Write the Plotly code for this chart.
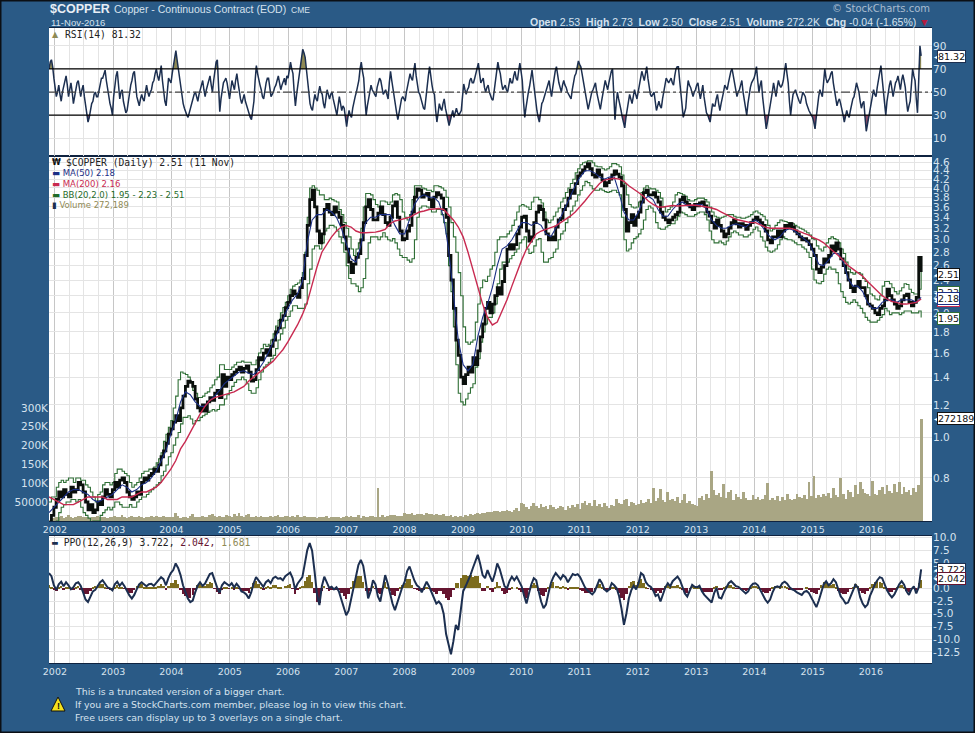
import math
import pandas as pd
import plotly.graph_objects as go

START = "2001-11-25"
END = "2016-11-11"
AXIS_END = "2017-01-18"
YEARS = list(range(2002, 2017))
PRICE_TICKS = [4.6, 4.4, 4.2, 4.0, 3.8, 3.6, 3.4, 3.2, 3.0, 2.8, 2.6, 2.4, 2.2, 2.0, 1.8, 1.6, 1.4, 1.2, 1.0, 0.8]
VOLUME_TICKS = [50, 100, 150, 200, 250, 300]
VOLUME_LABELS = ["50000", "100K", "150K", "200K", "250K", "300K"]
RSI_TICKS = [10, 30, 50, 70, 90]
PPO_TICKS = [10, 7.5, 5, 2.5, 0, -2.5, -5, -7.5, -10, -12.5]

price = [
    .62, .65,
    .68, .71, .74, .72, .75, .73, .72, .76, .74, .75, .78, .77, .74, .70, .67, .69, .66, .67, .70, .69, .72, .75, .73, .72,
    .75, .78, .76, .79, .80, .78, .74, .72, .71, .72, .74, .73, .78, .80, .79, .81, .82, .84, .83, .86, .90, .93, .97, 1.02,
    1.05, 1.09, 1.13, 1.10, 1.18, 1.26, 1.33, 1.37, 1.36, 1.33, 1.24, 1.18, 1.16, 1.20, 1.16, 1.22, 1.25, 1.23, 1.28, 1.30, 1.25, 1.42, 1.33, 1.40,
    1.38, 1.42, 1.44, 1.46, 1.48, 1.44, 1.47, 1.49, 1.44, 1.37, 1.38, 1.46, 1.56, 1.54, 1.60, 1.63, 1.58, 1.66, 1.72, 1.80, 1.84, 1.92, 1.97, 2.06,
    2.12, 2.20, 2.26, 2.22, 2.18, 2.30, 2.42, 2.75, 3.25, 3.75, 3.95, 3.60, 3.15, 2.95, 3.10, 3.55, 3.65, 3.50, 3.45, 3.60, 3.50, 3.40, 3.25, 3.05,
    2.85, 2.65, 2.50, 2.62, 2.72, 2.78, 3.00, 3.30, 3.60, 3.75, 3.55, 3.35, 3.35, 3.48, 3.60, 3.45, 3.30, 3.25, 3.40, 3.62, 3.70, 3.40, 3.15, 3.00,
    3.02, 3.15, 3.25, 3.50, 3.80, 3.98, 3.95, 3.80, 3.85, 3.88, 3.75, 3.60, 3.80, 3.90, 3.85, 3.78, 3.55, 3.40, 2.75, 2.40, 2.05, 1.72, 1.58, 1.40,
    1.35, 1.42, 1.48, 1.44, 1.56, 1.50, 1.62, 1.75, 1.88, 2.05, 2.12, 2.00, 2.10, 2.20, 2.30, 2.22, 2.38, 2.60, 2.85, 2.92, 2.85, 2.92, 3.10, 3.22,
    3.40, 3.42, 3.15, 2.98, 3.05, 3.30, 3.50, 3.62, 3.55, 3.35, 3.10, 3.00, 3.05, 3.00, 3.22, 3.35, 3.38, 3.55, 3.62, 3.78, 3.95, 3.88, 4.10, 4.28,
    4.35, 4.42, 4.50, 4.58, 4.45, 4.30, 4.25, 4.42, 4.30, 4.18, 4.05, 4.12, 4.20, 4.30, 4.40, 4.32, 4.25, 4.05, 3.55, 3.15, 3.30, 3.45, 3.25, 3.40,
    3.50, 3.70, 3.90, 3.95, 3.85, 3.85, 3.90, 3.80, 3.70, 3.50, 3.40, 3.35, 3.30, 3.35, 3.40, 3.45, 3.50, 3.75, 3.80, 3.70, 3.65, 3.60, 3.55, 3.65,
    3.62, 3.68, 3.70, 3.62, 3.50, 3.42, 3.30, 3.20, 3.35, 3.25, 3.15, 3.05, 3.10, 3.20, 3.30, 3.35, 3.28, 3.22, 3.28, 3.25, 3.18, 3.25, 3.30, 3.35,
    3.40, 3.35, 3.30, 3.25, 3.15, 3.00, 2.95, 3.05, 3.05, 3.15, 3.05, 3.15, 3.25, 3.20, 3.28, 3.22, 3.15, 3.10, 3.05, 3.00, 3.02, 2.98, 2.92, 2.85,
    2.75, 2.55, 2.50, 2.58, 2.70, 2.65, 2.75, 2.90, 2.82, 2.95, 2.85, 2.70, 2.60, 2.50, 2.40, 2.30, 2.25, 2.32, 2.38, 2.30, 2.30, 2.20, 2.10, 2.08,
    2.05, 2.00, 1.98, 2.05, 2.08, 2.15, 2.28, 2.20, 2.15, 2.10, 2.05, 2.08, 2.15, 2.20, 2.22, 2.12, 2.08, 2.12, 2.18, 2.72, 2.51,
]

bb_upper = [
    .70, .72,
    .72, .76, .78, .79, .78, .79, .80, .80, .78, .80, .80, .79, .79, .77, .76, .74, .72, .70, .73, .74, .77, .78, .78, .77,
    .78, .82, .84, .84, .83, .82, .81, .78, .76, .77, .78, .80, .82, .83, .83, .84, .84, .85, .87, .89, .92, .98, 1.02, 1.06,
    1.10, 1.18, 1.26, 1.38, 1.44, 1.43, 1.42, 1.40, 1.36, 1.30, 1.28, 1.25, 1.25, 1.26, 1.28, 1.29, 1.32, 1.34, 1.38, 1.40, 1.50, 1.50, 1.46, 1.46,
    1.46, 1.48, 1.50, 1.52, 1.52, 1.53, 1.52, 1.52, 1.52, 1.50, 1.50, 1.54, 1.60, 1.64, 1.68, 1.66, 1.68, 1.72, 1.78, 1.86, 1.92, 2.00, 2.06, 2.12,
    2.20, 2.28, 2.32, 2.34, 2.36, 2.40, 2.50, 2.80, 3.40, 4.00, 4.05, 4.00, 3.95, 3.85, 3.85, 3.75, 3.75, 3.78, 3.75, 3.72, 3.70, 3.55, 3.45, 3.30,
    3.20, 3.05, 2.85, 2.75, 2.85, 2.95, 3.20, 3.60, 3.88, 3.88, 3.85, 3.75, 3.65, 3.60, 3.72, 3.72, 3.70, 3.65, 3.70, 3.85, 3.88, 3.85, 3.75, 3.50,
    3.40, 3.35, 3.45, 3.75, 4.05, 4.05, 4.05, 4.00, 3.98, 3.95, 3.95, 3.92, 4.05, 4.05, 4.03, 4.00, 3.95, 3.80, 3.60, 3.30, 3.05, 2.80, 2.50, 2.20,
    1.85, 1.70, 1.68, 1.70, 1.72, 1.90, 2.10, 2.30, 2.40, 2.38, 2.45, 2.55, 2.60, 2.80, 3.00, 3.05, 3.05, 3.05, 3.10, 3.15, 3.25, 3.35, 3.50, 3.62,
    3.65, 3.62, 3.60, 3.55, 3.70, 3.80, 3.80, 3.75, 3.68, 3.50, 3.35, 3.30, 3.35, 3.42, 3.50, 3.58, 3.70, 3.78, 3.90, 4.00, 4.10, 4.20, 4.35, 4.45,
    4.55, 4.60, 4.62, 4.65, 4.65, 4.60, 4.52, 4.50, 4.50, 4.45, 4.42, 4.45, 4.50, 4.58, 4.58, 4.55, 4.50, 4.30, 4.10, 3.85, 3.65, 3.60, 3.58, 3.60,
    3.70, 3.90, 4.00, 4.05, 4.00, 3.98, 3.98, 3.95, 3.90, 3.78, 3.60, 3.50, 3.55, 3.60, 3.70, 3.85, 3.90, 3.88, 3.85, 3.82, 3.75, 3.72, 3.72, 3.75,
    3.78, 3.78, 3.78, 3.75, 3.70, 3.60, 3.50, 3.42, 3.40, 3.38, 3.40, 3.42, 3.45, 3.45, 3.45, 3.42, 3.40, 3.40, 3.38, 3.38, 3.40, 3.42, 3.45, 3.50,
    3.52, 3.48, 3.45, 3.42, 3.35, 3.25, 3.15, 3.18, 3.25, 3.30, 3.35, 3.33, 3.32, 3.30, 3.30, 3.28, 3.25, 3.22, 3.20, 3.18, 3.15, 3.12, 3.08, 3.02,
    3.00, 2.90, 2.85, 2.82, 2.88, 2.95, 3.02, 3.05, 3.02, 3.00, 2.95, 2.85, 2.78, 2.65, 2.55, 2.50, 2.48, 2.50, 2.50, 2.48, 2.42, 2.38, 2.30, 2.22,
    2.20, 2.16, 2.15, 2.20, 2.32, 2.38, 2.38, 2.35, 2.30, 2.25, 2.22, 2.26, 2.30, 2.35, 2.34, 2.28, 2.24, 2.22, 2.22, 2.28, 2.51,
]

bb_lower = [
    .60, .61,
    .62, .63, .66, .68, .69, .70, .70, .71, .71, .70, .71, .68, .66, .65, .64, .62, .63, .63, .63, .65, .66, .67, .68, .67,
    .68, .70, .70, .69, .68, .68, .68, .69, .68, .68, .70, .71, .72, .72, .73, .74, .75, .76, .77, .78, .81, .83, .86, .90,
    .92, .96, 1.00, 1.03, 1.08, 1.12, 1.12, 1.13, 1.11, 1.08, 1.10, 1.10, 1.12, 1.13, 1.14, 1.15, 1.16, 1.17, 1.16, 1.17, 1.20, 1.20, 1.24, 1.27,
    1.30, 1.33, 1.36, 1.38, 1.38, 1.40, 1.38, 1.35, 1.30, 1.28, 1.28, 1.32, 1.38, 1.44, 1.48, 1.50, 1.52, 1.55, 1.58, 1.64, 1.72, 1.78, 1.84, 1.92,
    1.96, 2.02, 2.08, 2.08, 2.05, 2.05, 2.05, 2.10, 2.35, 2.55, 2.85, 2.90, 2.90, 2.85, 2.95, 3.15, 3.20, 3.25, 3.25, 3.22, 3.15, 3.05, 2.95, 2.80,
    2.60, 2.42, 2.35, 2.35, 2.32, 2.25, 2.30, 2.42, 2.70, 2.95, 3.05, 3.05, 3.05, 3.00, 3.05, 3.12, 3.05, 3.00, 2.98, 3.02, 2.95, 2.85, 2.75, 2.72,
    2.72, 2.68, 2.65, 2.70, 3.00, 3.40, 3.58, 3.62, 3.62, 3.60, 3.55, 3.50, 3.50, 3.55, 3.55, 3.45, 3.30, 3.10, 2.60, 2.25, 1.85, 1.50, 1.28, 1.22,
    1.20, 1.24, 1.28, 1.32, 1.35, 1.48, 1.55, 1.70, 1.80, 1.88, 1.95, 1.95, 2.00, 2.10, 2.35, 2.55, 2.65, 2.65, 2.65, 2.70, 2.75, 2.80, 2.85, 2.95,
    3.00, 3.05, 2.85, 2.78, 2.80, 2.90, 3.00, 3.02, 2.80, 2.65, 2.65, 2.70, 2.72, 2.80, 2.85, 3.00, 3.10, 3.15, 3.30, 3.40, 3.52, 3.62, 3.72, 3.85,
    3.95, 4.05, 4.15, 4.12, 4.05, 3.98, 3.95, 3.95, 3.98, 3.95, 3.92, 3.90, 3.92, 3.95, 3.95, 3.90, 3.85, 3.40, 3.00, 2.82, 2.85, 2.95, 3.02, 3.05,
    3.10, 3.18, 3.35, 3.55, 3.62, 3.58, 3.50, 3.30, 3.20, 3.18, 3.18, 3.22, 3.25, 3.28, 3.28, 3.35, 3.42, 3.50, 3.48, 3.45, 3.42, 3.42, 3.42, 3.45,
    3.48, 3.50, 3.50, 3.45, 3.35, 3.15, 3.00, 2.95, 2.95, 2.98, 2.95, 2.92, 2.98, 3.05, 3.12, 3.15, 3.12, 3.08, 3.08, 3.05, 3.05, 3.08, 3.12, 3.18,
    3.22, 3.15, 3.05, 2.98, 2.88, 2.82, 2.80, 2.82, 2.85, 2.92, 3.00, 3.05, 3.02, 3.00, 3.00, 2.98, 2.95, 2.92, 2.92, 2.88, 2.85, 2.80, 2.72, 2.55,
    2.40, 2.36, 2.35, 2.38, 2.48, 2.55, 2.58, 2.55, 2.55, 2.50, 2.35, 2.25, 2.18, 2.12, 2.10, 2.12, 2.15, 2.12, 2.08, 2.05, 2.00, 1.95, 1.92, 1.90,
    1.90, 1.90, 1.92, 1.95, 1.98, 2.05, 2.02, 1.98, 2.00, 2.00, 2.00, 1.98, 2.00, 2.02, 2.02, 2.02, 2.00, 2.00, 2.00, 2.02, 1.95,
]

ma50 = [
    .66,
    .68, .70, .72, .74, .75, .75, .74, .73, .71, .70, .71, .72,
    .73, .75, .77, .76, .74, .75, .77, .78, .80, .83, .88, .93,
    1.02, 1.10, 1.22, 1.29, 1.27, 1.22, 1.19, 1.19, 1.23, 1.26, 1.30, 1.35,
    1.38, 1.41, 1.44, 1.45, 1.43, 1.42, 1.46, 1.52, 1.60, 1.70, 1.80, 1.93,
    2.05, 2.15, 2.22, 2.38, 2.95, 3.35, 3.45, 3.45, 3.55, 3.50, 3.40, 3.20,
    2.95, 2.70, 2.65, 2.90, 3.30, 3.40, 3.40, 3.45, 3.45, 3.45, 3.25, 3.10,
    3.10, 3.35, 3.65, 3.80, 3.85, 3.80, 3.80, 3.70, 3.40, 2.85, 2.20, 1.72,
    1.50, 1.45, 1.50, 1.75, 1.95, 2.10, 2.30, 2.60, 2.85, 2.90, 3.00, 3.15,
    3.30, 3.30, 3.25, 3.30, 3.25, 3.10, 3.05, 3.20, 3.40, 3.60, 3.85, 4.05,
    4.25, 4.40, 4.40, 4.35, 4.25, 4.20, 4.25, 4.25, 3.90, 3.50, 3.35, 3.35,
    3.50, 3.75, 3.82, 3.75, 3.55, 3.42, 3.42, 3.55, 3.65, 3.70, 3.62, 3.62,
    3.65, 3.65, 3.55, 3.35, 3.25, 3.20, 3.20, 3.25, 3.28, 3.25, 3.22, 3.30,
    3.35, 3.28, 3.15, 3.05, 3.00, 3.05, 3.15, 3.20, 3.15, 3.08, 3.02, 2.95,
    2.78, 2.62, 2.60, 2.68, 2.78, 2.78, 2.65, 2.42, 2.32, 2.32, 2.25, 2.12,
    2.05, 2.05, 2.12, 2.15, 2.15, 2.12, 2.15, 2.15, 2.15, 2.12, 2.18,
]

ma200 = [
    .72,
    .71, .70, .69, .69, .69, .70, .71, .72, .72, .72, .72, .71,
    .71, .71, .72, .72, .72, .73, .74, .74, .75, .76, .78, .81,
    .84, .88, .94, .98, 1.03, 1.09, 1.14, 1.19, 1.23, 1.25, 1.26, 1.27,
    1.28, 1.29, 1.31, 1.33, 1.37, 1.40, 1.43, 1.46, 1.49, 1.53, 1.58, 1.63,
    1.70, 1.78, 1.87, 1.98, 2.12, 2.34, 2.58, 2.80, 2.92, 3.05, 3.15, 3.22,
    3.25, 3.22, 3.15, 3.12, 3.12, 3.12, 3.13, 3.15, 3.18, 3.28, 3.33, 3.35,
    3.38, 3.40, 3.45, 3.50, 3.52, 3.55, 3.56, 3.57, 3.55, 3.45, 3.35, 3.22,
    3.05, 2.80, 2.55, 2.30, 2.10, 1.95, 1.87, 1.90, 2.02, 2.15, 2.32, 2.50,
    2.68, 2.85, 2.98, 3.10, 3.15, 3.18, 3.20, 3.24, 3.30, 3.36, 3.42, 3.50,
    3.60, 3.72, 3.85, 3.98, 4.10, 4.18, 4.20, 4.22, 4.20, 4.15, 4.05, 3.98,
    3.90, 3.82, 3.72, 3.65, 3.60, 3.60, 3.62, 3.63, 3.62, 3.63, 3.64, 3.64,
    3.63, 3.62, 3.60, 3.58, 3.55, 3.50, 3.45, 3.40, 3.36, 3.34, 3.32, 3.30,
    3.30, 3.26, 3.22, 3.20, 3.20, 3.20, 3.20, 3.20, 3.18, 3.14, 3.11, 3.08,
    3.03, 3.00, 2.95, 2.88, 2.82, 2.75, 2.68, 2.60, 2.55, 2.50, 2.45, 2.38,
    2.32, 2.25, 2.20, 2.16, 2.13, 2.12, 2.10, 2.10, 2.11, 2.12, 2.16,
]

volume_k = [
    4, 8,
    10, 12, 11, 14, 10, 13, 16, 12, 10, 13, 15, 14, 11, 13, 12, 10, 13, 11, 14, 12, 11, 13, 10, 12,
    11, 14, 13, 12, 16, 11, 10, 13, 15, 11, 12, 14, 12, 10, 13, 11, 14, 12, 15, 13, 11, 14, 12, 11,
    13, 11, 22, 14, 10, 12, 13, 9, 14, 20, 13, 11, 12, 14, 11, 13, 17, 21, 14, 12, 15, 11, 13, 16,
    14, 12, 19, 15, 23, 14, 12, 17, 21, 13, 12, 15, 12, 14, 13, 12, 11, 14, 13, 15, 18, 13, 12, 14,
    14, 13, 15, 12, 17, 13, 11, 14, 12, 13, 11, 12, 10, 13, 12, 11, 14, 10, 12, 13, 11, 12, 10, 13,
    15, 11, 14, 12, 13, 16, 10, 14, 12, 11, 15, 14, 13, 88, 12, 16, 12, 14, 17, 18, 16, 15, 14, 15,
    22, 21, 19, 22, 17, 19, 21, 20, 18, 22, 20, 19, 18, 21, 17, 16, 19, 15, 14, 16, 13, 15, 12, 14,
    13, 17, 15, 19, 17, 20, 22, 20, 23, 22, 25, 24, 26, 29, 27, 25, 28, 27, 30, 28, 26, 30, 37, 28,
    50, 46, 38, 34, 42, 48, 40, 36, 46, 38, 40, 32, 44, 38, 34, 36, 42, 38, 30, 40, 36, 44, 38, 46,
    34, 48, 54, 44, 50, 40, 56, 42, 46, 38, 48, 42, 36, 44, 40, 60, 50, 46, 56, 60, 42, 52, 48, 44,
    46, 56, 48, 52, 60, 50, 90, 54, 62, 86, 58, 52, 78, 56, 60, 54, 66, 50, 58, 72, 48, 54, 46, 44,
    40, 62, 68, 58, 72, 62, 135, 84, 70, 76, 66, 100, 62, 78, 84, 58, 72, 66, 60, 78, 62, 58, 56, 70,
    60, 66, 58, 60, 70, 103, 58, 62, 58, 68, 54, 66, 58, 72, 60, 56, 60, 74, 66, 62, 70, 60, 104, 68,
    122, 62, 70, 64, 72, 68, 76, 62, 88, 70, 66, 116, 72, 60, 84, 78, 66, 96, 72, 104, 86, 76, 74, 68,
    108, 74, 70, 84, 92, 72, 96, 80, 76, 100, 78, 106, 72, 92, 78, 84, 70, 88, 78, 96, 272,
]

rsi = [
    70, 76, 78, 72,
    62, 54, 46, 50, 56, 48, 42, 50, 54, 60, 64, 56, 46, 52, 58, 50, 40, 46, 52, 58, 60, 52, 46, 52,
    56, 46, 38, 32, 24, 28, 34, 40, 42, 48, 50, 46, 46, 52, 58, 62, 62, 66, 69, 60, 52, 44, 40, 36,
    30, 46, 58, 64, 68, 56, 44, 50, 52, 42, 36, 32, 34, 42, 50, 56, 60, 66, 68, 56, 46, 42, 38, 44,
    48, 44, 42, 50, 56, 50, 46, 50, 52, 58, 60, 66, 70, 64, 60, 66, 73, 60, 48, 42, 38, 50, 62, 60,
    58, 66, 72, 80, 86, 78, 70, 62, 55, 48, 40, 36, 32, 30, 28, 32, 36, 42, 44, 48, 50, 46, 42, 48,
    52, 58, 60, 52, 46, 52, 56, 62, 64, 56, 50, 60, 70, 76, 78, 50, 33, 44, 52, 58, 60, 62, 58, 50,
    44, 52, 60, 56, 52, 60, 66, 58, 50, 44, 40, 44, 48, 42, 38, 34, 32, 28, 26, 34, 42, 60, 73, 66,
    60, 56, 52, 46, 44, 52, 58, 62, 62, 54, 46, 48, 50, 54, 56, 60, 64, 58, 52, 56, 60, 62, 56, 64,
    62, 70, 76, 70, 66, 50, 38, 48, 56, 66, 72, 80, 87, 84, 80, 70, 60, 50, 40, 36, 34, 42, 48, 44,
    42, 50, 55, 50, 48, 40, 36, 44, 52, 48, 44, 48, 50, 44, 40, 34, 30, 38, 46, 40, 34, 38, 36, 28,
    20, 28, 34, 30, 28, 36, 42, 46, 50, 56, 60, 70, 76, 68, 62, 44, 30, 38, 44, 52, 56, 52, 50, 48,
    46, 54, 58, 62, 60, 52, 48, 50, 52, 48, 44, 58, 68, 60, 52, 44, 40, 32, 26, 34, 38, 44, 46, 44,
    42, 50, 56, 62, 66, 62, 60, 68, 75, 64, 56, 50, 48, 44, 40, 36, 35, 46, 52, 64, 72, 62, 56, 50,
    48, 34, 24, 32, 40, 36, 34, 40, 44, 36, 32, 26, 21, 26, 30, 34, 28, 32, 36, 32, 30, 32, 34, 46,
    57, 52, 48, 52, 54, 60, 62, 58, 58, 62, 66, 72, 75, 66, 58, 60, 62, 54, 50, 54, 56, 50, 46, 44,
    43, 52, 60, 70, 76, 70, 66, 58, 52, 54, 56, 52, 50, 56, 62, 58, 58, 64, 68, 62, 60, 68, 75, 68,
    60, 42, 28, 36, 46, 50, 55, 62, 69, 60, 50, 42, 34, 28, 24, 32, 40, 42, 46, 50, 52, 56, 60, 52,
    46, 54, 62, 68, 72, 64, 58, 54, 50, 56, 60, 56, 54, 50, 48, 46, 44, 52, 60, 64, 66, 72, 77, 74,
    72, 66, 60, 54, 48, 42, 35, 40, 46, 50, 52, 56, 58, 50, 44, 40, 35, 42, 48, 54, 60, 56, 52, 58,
    64, 68, 70, 46, 26, 40, 50, 44, 40, 34, 28, 24, 19, 28, 36, 42, 48, 44, 40, 46, 52, 48, 44, 50,
    56, 62, 68, 64, 60, 66, 72, 62, 52, 48, 46, 48, 50, 42, 34, 38, 42, 38, 36, 44, 50, 56, 62, 60,
    58, 60, 62, 58, 56, 64, 70, 72, 72, 60, 50, 38, 28, 32, 36, 50, 60, 56, 54, 50, 46, 50, 52, 56,
    58, 50, 44, 50, 56, 46, 36, 32, 30, 26, 24, 32, 40, 38, 38, 44, 48, 40, 34, 40, 44, 50, 56, 54,
    52, 58, 64, 68, 70, 64, 58, 52, 46, 50, 52, 56, 60, 50, 44, 36, 30, 40, 50, 54, 58, 60, 62, 66,
    72, 60, 50, 56, 60, 46, 36, 26, 18, 24, 30, 36, 42, 50, 58, 52, 46, 54, 60, 56, 54, 56, 60, 68,
    75, 66, 58, 42, 30, 40, 48, 50, 52, 48, 44, 42, 40, 46, 50, 48, 46, 40, 36, 34, 32, 30, 28, 24,
    18, 28, 40, 46, 52, 48, 46, 58, 70, 62, 58, 60, 62, 66, 68, 58, 50, 44, 38, 42, 44, 40, 36, 30,
    24, 30, 34, 30, 28, 34, 40, 44, 46, 52, 58, 54, 50, 42, 36, 40, 42, 28, 16, 22, 28, 34, 40, 46,
    52, 48, 46, 54, 60, 66, 73, 62, 50, 40, 30, 42, 52, 56, 60, 52, 46, 52, 58, 60, 64, 58, 52, 60,
    65, 60, 54, 42, 33, 38, 42, 56, 70, 64, 60, 44, 32, 60, 90, 81.32,
]

ppo = [
    3.0, 2.4,
    .6, -.3, .8, 1.3, .4, 1.2, .6, -.2, .2, 1.0, 1.2, .5, -.8, -2.2, -2.7, -1.8, -.6, -.3, .5, 1.2, 1.6, .9, .2, .0,
    -.4, .8, 1.3, .5, 1.1, .4, -.6, -1.4, -2.0, -1.3, -.2, .8, 1.2, .7, .4, .8, .9, .5, 1.0, 1.5, 2.2, 1.8, .6, 2.0,
    3.0, 3.6, 4.9, 4.0, 2.6, .6, -.8, -2.0, -2.7, -2.4, -.8, .5, 1.2, .5, .9, 1.8, 2.8, 3.0, 1.5, .2, -.9, .6, 1.2, .8,
    .5, 1.0, .2, .9, .3, -.6, -.8, -1.2, -2.0, -.8, 1.0, 2.2, 1.6, .9, .3, 1.2, 1.6, 1.0, 2.0, 2.3, 1.9, 2.0, 1.6, 2.4,
    2.8, 3.1, 2.0, -.2, .9, 1.6, 2.2, 4.8, 7.5, 8.9, 7.4, 3.4, -1.2, -3.3, .4, 2.3, 1.2, .1, .3, -.2, .2, -.6, -2.2, -3.6,
    -5.3, -4.4, -2.2, .4, 2.6, 4.6, 5.6, 4.4, 1.4, -2.0, -.6, 1.6, .8, -1.6, -2.6, .2, 2.6, 1.0, -1.0, -3.0, -4.3, -2.8, -1.2, .2,
    1.3, 3.4, 4.3, 2.8, 1.5, .6, .2, -.8, .3, 1.3, .4, -.8, -1.8, -3.0, -2.6, -3.2, -5.0, -9.0, -11.0, -13.0, -10.4, -7.2, -8.2, -4.5,
    -.6, .4, 1.4, 2.6, 4.0, 5.4, 6.6, 4.8, 2.6, 2.0, 3.6, 2.4, 1.3, 2.8, 4.9, 3.8, 2.0, .4, .0, 1.4, 2.3, 1.6, 2.3, 1.4,
    .4, -1.4, -3.0, -1.0, .8, 2.0, 1.6, -.6, -2.6, -3.9, -3.2, -1.0, 1.0, 2.2, 3.0, 2.4, 1.8, 2.6, 2.2, 1.2, 2.0, 2.8, 2.6, 2.8,
    2.2, 1.2, .2, -.4, -.9, -1.2, -.6, .8, 1.8, 1.0, -.2, -.6, -.2, 1.0, .6, .0, -1.5, -4.0, -7.2, -5.0, -2.0, -.4, .5, -.2,
    1.0, 3.0, 2.6, 1.2, .6, .3, -.4, -1.5, -1.2, -2.6, -1.4, .2, 1.0, .4, 1.4, 1.8, 2.3, 1.6, .4, -1.0, -1.6, -.6, .7, .3,
    .2, .5, -.6, -1.3, -1.8, -2.4, -2.8, -1.0, .1, -1.8, -2.0, -.8, .2, 1.0, 1.4, .8, .4, .3, -.2, -.6, -1.0, -.6, .4, .9,
    1.0, .6, -.4, -1.4, -2.2, -2.8, -2.2, -.8, .2, .4, .2, 1.0, 1.3, .9, .2, -.2, -.4, -.8, -1.0, -1.3, -.7, -.5, -1.0, -2.0,
    -2.9, -3.7, -2.4, -.6, .8, 1.4, .6, 1.0, 1.8, 1.2, -.2, -1.6, -2.2, -3.0, -2.8, -1.6, -.6, .7, .2, -1.8, -3.0, -3.7, -3.2, -1.5,
    -.4, .8, 1.6, 2.2, 2.0, .8, -.4, -1.2, -1.8, -1.2, -.2, .8, 1.4, .7, -.6, -1.3, -.2, .4, -1.0, .2, 3.722,
]

ppo_hist = [
    .6, .3,
    -.4, -.6, .2, .4, -.2, .3, .1, -.4, -.2, .3, .4, -.2, -.8, -1.2, -1.2, -.5, .2, .4, .6, .9, .8, .3, -.1, -.2,
    -.4, .3, .6, .1, .3, -.1, -.5, -.9, -1.0, -.4, .4, .8, .8, .3, .1, .2, .2, .1, .3, .5, .8, .5, -.3, .5,
    1.0, 1.0, 1.6, .8, -.2, -1.1, -1.6, -2.0, -1.9, -1.3, -.2, .7, 1.0, .4, .5, .8, 1.2, 1.0, -.1, -.8, -1.2, -.2, .3, .1,
    -.1, .2, -.2, .2, -.1, -.6, -.6, -.6, -.9, .1, 1.0, 1.5, .8, .2, -.2, .3, .5, .1, .6, .6, .3, .3, .0, .5,
    .6, .8, -.1, -1.2, -.3, .2, .4, 1.5, 2.3, 2.6, 1.3, -1.0, -2.6, -2.8, -.6, .4, -.1, -.5, -.4, -.4, -.2, -.4, -1.0, -1.5,
    -2.1, -1.2, .2, 1.4, 2.2, 2.4, 2.4, 1.2, -.6, -1.8, -.6, .4, -.1, -1.0, -1.2, .2, 1.2, .3, -.5, -1.4, -1.6, -.6, .2, .6,
    1.0, 1.8, 1.8, .6, -.1, -.4, -.5, -.8, -.2, .3, -.1, -.6, -.8, -1.2, -.6, -.6, -1.2, -2.0, -2.2, -1.8, -.4, 1.0, 1.0, 2.0,
    2.7, 2.6, 2.4, 2.6, 2.2, 2.4, 2.4, 1.0, -.5, -.6, .4, -.2, -.8, .2, 1.2, .4, -.6, -1.2, -1.0, -.2, .3, .0, .2, -.2,
    -.8, -1.6, -2.0, -.4, .6, 1.0, .6, -.6, -1.4, -1.6, -.8, .2, .8, 1.2, .4, .4, .1, .4, .2, -.3, .1, .3, .2, .2,
    -.2, -.6, -.9, -1.0, -.9, -.8, -.2, .5, .8, .2, -.4, -.6, -.4, .2, .1, -.3, -1.0, -2.0, -2.2, -1.2, .4, 1.2, 1.4, .6,
    1.2, 1.8, 1.0, .2, -.1, -.2, -.5, -.9, -.5, -.9, -.2, .5, .6, .2, .4, .5, .7, .2, -.4, -.9, -.9, -.1, .6, .3,
    .1, .2, -.5, -.7, -.8, -.8, -.7, .1, .5, -.3, -.3, .2, .5, .6, .6, .2, -.1, -.1, -.3, -.4, -.5, -.2, .3, .5,
    .4, .1, -.4, -.7, -.9, -1.0, -.5, .1, .5, .4, .2, .5, .5, .2, -.2, -.3, -.3, -.4, -.3, -.4, .0, .1, -.2, -.7,
    -1.0, -1.2, -.3, .6, 1.2, 1.3, .6, .6, .8, .3, -.5, -1.0, -1.1, -1.2, -.8, -.1, .3, .8, .4, -.6, -1.0, -1.1, -.6, .2,
    .8, 1.2, 1.4, 1.3, 1.0, .2, -.4, -.7, -.8, -.4, .1, .5, .7, .2, -.5, -.7, -.1, .1, -.3, 1.1, 1.681,
]

W, H = 975, 733
BG = "#2a5a86"
INK = "#d6e2ee"
PANEL_EDGE = "#0f2340"
GRID = "#e4e4e4"
GRID_YEAR = "#c6c6c6"
NAVY = "#1c2f50"
OLIVE = "#a9a684"
SANS = "Liberation Sans"
MONO = "DejaVu Sans Mono"
DEJA = "DejaVu Sans"
L, R = 49, 932


def fx(p):
    return p / W


def fy(p):
    return 1 - p / H


def dates(values):
    return pd.date_range(START, END, periods=len(values))


BAR_MS = 17 * 24 * 3600 * 1000
HIST_MS = 15 * 24 * 3600 * 1000
years = [f"{y}-01-01" for y in YEARS]
quarters = [f"{y}-{m:02d}-01" for y in YEARS for m in (4, 7, 10)]

fig = go.Figure()

# volume (behind the price)
fig.add_trace(go.Bar(x=dates(volume_k), y=volume_k, width=BAR_MS, marker=dict(color=OLIVE, line_width=0),
                     xaxis="x", yaxis="y"))


def price_line(values, color, width, shape="linear"):
    fig.add_trace(go.Scatter(x=dates(values), y=values, mode="lines", line=dict(color=color, width=width, shape=shape),
                             xaxis="x", yaxis="y2"))


price_line(bb_upper, "#2f6f36", 1.1, "hv")
price_line(bb_lower, "#2f6f36", 1.1, "hv")
price_line(price, "#0a0f0c", 2.8, "hv")
price_line(ma50, "#1b2f86", 1.1)
price_line(ma200, "#c82a50", 1.4)

# RSI
rsi_x = dates(rsi)
fig.add_trace(go.Scatter(x=rsi_x, y=[70] * len(rsi), mode="lines", line=dict(width=0), xaxis="x2", yaxis="y3"))
fig.add_trace(go.Scatter(x=rsi_x, y=[max(v, 70) for v in rsi], mode="lines", line=dict(width=0), fill="tonexty",
                         fillcolor="#8f8a55", xaxis="x2", yaxis="y3"))
fig.add_trace(go.Scatter(x=rsi_x, y=[30] * len(rsi), mode="lines", line=dict(width=0), xaxis="x2", yaxis="y3"))
fig.add_trace(go.Scatter(x=rsi_x, y=[min(v, 30) for v in rsi], mode="lines", line=dict(width=0), fill="tonexty",
                         fillcolor="#8a4a66", xaxis="x2", yaxis="y3"))
fig.add_trace(go.Scatter(x=rsi_x, y=rsi, mode="lines", line=dict(color=NAVY, width=1.5), xaxis="x2", yaxis="y3"))

# PPO
fig.add_trace(go.Bar(x=dates(ppo_hist), y=ppo_hist, width=HIST_MS,
                     marker=dict(color=["#7c6c1e" if v >= 0 else "#651530" for v in ppo_hist], line_width=0),
                     xaxis="x3", yaxis="y4"))
fig.add_trace(go.Scatter(x=dates(ppo), y=ppo, mode="lines", line=dict(color=NAVY, width=2), xaxis="x3", yaxis="y4"))


def xaxis(dom_anchor, labels):
    return dict(
        domain=[fx(L), fx(R)], anchor=dom_anchor, type="date", range=[START, AXIS_END], tickmode="array",
        tickvals=years, ticktext=[str(y) for y in YEARS], showticklabels=labels, ticks="", showgrid=True,
        gridcolor=GRID_YEAR, gridwidth=1.4, zeroline=False, showline=True, linecolor=PANEL_EDGE, linewidth=1,
        mirror=True, tickfont=dict(family=DEJA, size=9.5, color=INK),
        minor=dict(tickvals=quarters, showgrid=True, gridcolor=GRID, gridwidth=1, ticks=""),
    )


def yaxis(dom, rng, ticks, labels=None, **extra):
    d = dict(
        domain=[fy(dom[1]), fy(dom[0])], range=rng, tickmode="array", tickvals=ticks,
        ticktext=labels if labels else [str(t) for t in ticks], showgrid=True, gridcolor=GRID, gridwidth=1,
        zeroline=False, showline=False, ticks="", tickfont=dict(family=DEJA, size=10.5, color=INK),
    )
    d.update(extra)
    return d


layout_axes = dict(
    xaxis=xaxis("y", True),
    xaxis2=xaxis("y3", False),
    xaxis3=xaxis("y4", True),
    yaxis=yaxis((155.5, 521), [0, 970], VOLUME_TICKS, VOLUME_LABELS, side="left", anchor="x", showgrid=False),
    yaxis2=yaxis((155.5, 521), [math.log10(0.63), math.log10(4.79)], PRICE_TICKS,
                 [f"{t:.1f}" for t in PRICE_TICKS], type="log", side="right", anchor="x", overlaying="y"),
    yaxis3=yaxis((28, 155.5), [-5, 105.5], RSI_TICKS, side="right", anchor="x2"),
    yaxis4=yaxis((536, 663), [-14.7, 10.3], PPO_TICKS, [f"{t:g}" if t % 1 else f"{t:.1f}" for t in PPO_TICKS],
                 side="right", anchor="x3"),
)

annotations = []


def ann(text, x, y, size, color, family=SANS, anchor="left"):
    annotations.append(dict(text=text, x=fx(x), y=fy(y), xref="paper", yref="paper", showarrow=False, xanchor=anchor,
                            yanchor="middle", align=anchor, font=dict(family=family, size=size, color=color)))


def tag(text, y, edge, x=R + 5):
    ann("◂", x - 5, y, 10, "#ffffff", DEJA)
    annotations.append(dict(text=text, x=fx(x), y=fy(y), xref="paper", yref="paper", showarrow=False, xanchor="left",
                            yanchor="middle", bgcolor="#ffffff", bordercolor=edge, borderwidth=1, borderpad=0,
                            font=dict(family=DEJA, size=9.5, color="#111111")))


# header
ann("<b>$COPPER</b>", 48, 9, 12.5, "#e8eef5")
ann("Copper - Continuous Contract (EOD)", 112, 9, 10.5, INK)
ann("CME", 289, 9.5, 8.5, INK)
ann("11-Nov-2016", 49, 22, 9.5, INK)
ann("© StockCharts.com", R, 9, 10, "#a9bccf", DEJA, "right")
ann("<b>Open</b> 2.53  <b>High</b> 2.73  <b>Low</b> 2.50  <b>Close</b> 2.51  <b>Volume</b> 272.2K  <b>Chg</b> -0.04 (-1.65%) "
    "<span style='color:#b01c40'>▼</span>", R, 22, 10.5, INK, SANS, "right")

# panel captions
ann("<span style='color:#8f8a55'>▲</span>", 50, 35, 8, "#8f8a55", DEJA)
ann("RSI(14) 81.32", 63, 35, 9.7, "#222222", MONO)
ann("<b>₩</b>", 50, 163, 8, "#111111", DEJA)
ann("$COPPER (Daily) 2.51 (11 Nov)", 64, 163, 9.7, "#222222", MONO)
ann("<span style='color:#1b2f86'>▬</span> <span style='color:#1b2f86'>MA(50) 2.18</span>", 50, 173, 8.5, "#1b2f86", DEJA)
ann("<span style='color:#c82a50'>▬</span> <span style='color:#c82a50'>MA(200) 2.16</span>", 50, 184, 8.5, "#c82a50", DEJA)
ann("<span style='color:#1f6b2a'>▬</span> <span style='color:#1f6b2a'>BB(20,2.0) 1.95 - 2.23 - 2.51</span>", 50, 195, 8.5, "#1f6b2a", DEJA)
ann("<span style='color:#1c2f50'>▮</span> <span style='color:#8f8a55'>Volume 272,189</span>", 50, 205, 8.5, "#8f8a55", DEJA)
ann("<span style='color:#1c2f50'>▬</span> <span style='color:#222222'>PPO(12,26,9) 3.722,</span> "
    "<span style='color:#651530'>2.042,</span> <span style='color:#8f8a55'>1.681</span>", 50, 542, 9.7, "#222222", MONO)

# value tags
tag("81.32", 56, "#1c2f50")
tag("2.23", 292, "#2f6f36")
tag("2.16", 301, "#c82a50")
tag("2.18", 298, "#1b2f86")
tag("2.51", 274, "#111111")
tag("1.95", 318, "#2f6f36")
tag("272189", 418, "#111111")
tag("3.722", 569, "#1c2f50")
tag("2.042", 578, "#651530")

# notice
ann("This is a truncated version of a bigger chart.", 73, 691, 9.4, INK, DEJA)
ann("If you are a StockCharts.com member, please log in to view this chart.", 73, 704, 9.4, INK, DEJA)
ann("Free users can display up to 3 overlays on a single chart.", 73, 717, 9.4, INK, DEJA)
ann("<b>!</b>", 58, 706, 9, "#111111", SANS, "center")

shapes = [
    dict(type="line", xref="x2 domain", x0=0, x1=1, yref="y3", y0=70, y1=70, line=dict(color="#000000", width=1.3)),
    dict(type="line", xref="x2 domain", x0=0, x1=1, yref="y3", y0=30, y1=30, line=dict(color="#000000", width=1.3)),
    dict(type="line", xref="x2 domain", x0=0, x1=1, yref="y3", y0=50, y1=50,
         line=dict(color="#444444", width=1.2, dash="dashdot")),
    dict(type="path", xref="paper", yref="paper", fillcolor="#f4e21c", line=dict(color="#111111", width=1),
         path=f"M {fx(58)} {fy(697)} L {fx(65)} {fy(711)} L {fx(51)} {fy(711)} Z"),
    dict(type="rect", xref="paper", yref="paper", x0=0, x1=1, y0=0, y1=1, line=dict(color="#0b0f14", width=3)),
]

fig.update_layout(
    width=W, height=H, autosize=False, margin=dict(l=0, r=0, t=0, b=0, autoexpand=False), paper_bgcolor=BG,
    plot_bgcolor="#ffffff", showlegend=False, barmode="overlay", bargap=0, annotations=annotations, shapes=shapes,
    hovermode=False, **layout_axes,
)

fig.write_html("out.html", config={"displayModeBar": False},
               post_script="document.body.style.margin='0';document.body.style.background='" + BG + "';")
